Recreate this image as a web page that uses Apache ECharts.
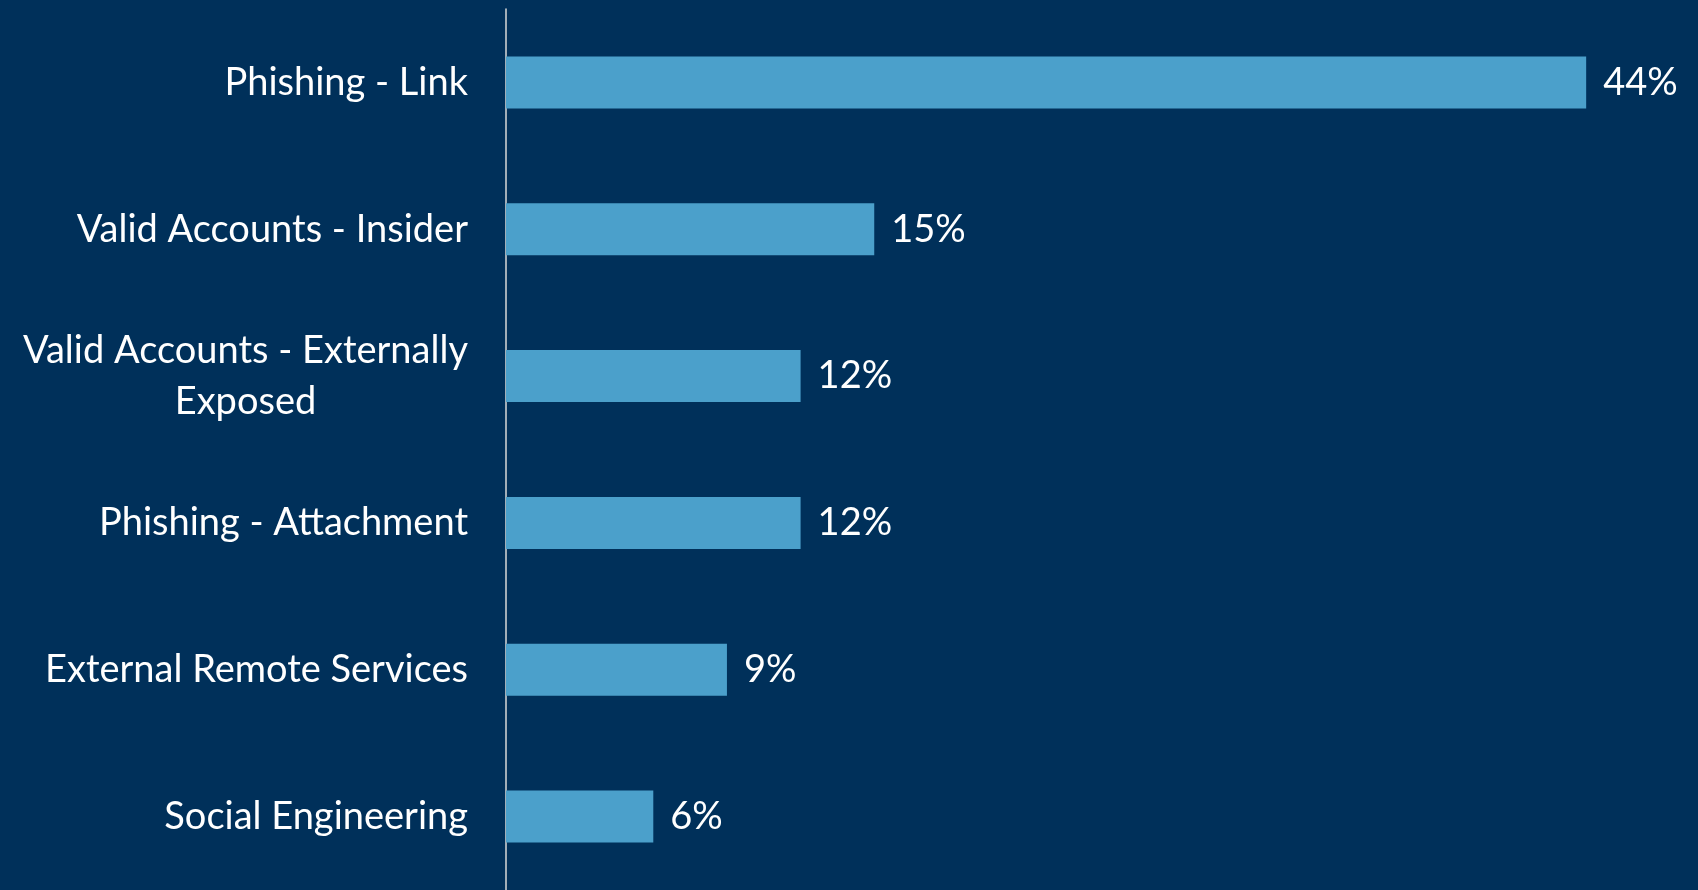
<!DOCTYPE html>
<html>
<head>
<meta charset="utf-8">
<script src="https://cdn.jsdelivr.net/npm/echarts@6/dist/echarts.min.js"></script>
<style>
  html, body { margin: 0; padding: 0; background: #00305A; }
  #chart { width: 1698px; height: 890px; }
</style>
</head>
<body>
<div id="chart"></div>
<script>
// Initial access vectors, share of incidents (%)
const categories = [
  'Phishing - Link',
  'Valid Accounts - Insider',
  'Valid Accounts - Externally\nExposed',
  'Phishing - Attachment',
  'External Remote Services',
  'Social Engineering'
];
const values = [44, 15, 12, 12, 9, 6];

const FONT = 'Lato';
const FONT_SIZE = 38;

// width of a line of label text, so wrapped labels can be centred under their widest line
function textWidth(str) {
  const c = document.createElement('canvas').getContext('2d');
  c.font = FONT_SIZE + 'px ' + FONT;
  return c.measureText(str).width;
}

const chart = echarts.init(document.getElementById('chart'), null, { renderer: 'canvas' });

chart.setOption({
  backgroundColor: '#00305A',
  grid: { left: 506, right: 21, top: 9, bottom: 0, containLabel: false },
  xAxis: {
    type: 'value',
    min: 0,
    max: 47.7,
    show: false
  },
  yAxis: {
    type: 'category',
    data: categories,
    inverse: true,
    axisLine: { show: true, lineStyle: { color: '#D9D9D9', width: 1.5 } },
    axisTick: { show: false },
    axisLabel: {
      margin: 38,
      color: '#FFFFFF',
      fontFamily: FONT,
      fontSize: FONT_SIZE,
      lineHeight: 51,
      formatter: function (v) {
        if (v.indexOf('\n') < 0) return v;
        return v.split('\n').map(l => '{c|' + l + '}').join('\n');
      },
      rich: {
        c: {
          color: '#FFFFFF',
          fontFamily: FONT,
          fontSize: FONT_SIZE,
          lineHeight: 51,
          align: 'center',
          width: Math.ceil(textWidth('Valid Accounts - Externally'))
        }
      }
    },
    splitLine: { show: false }
  },
  series: [{
    type: 'bar',
    data: values,
    barWidth: 52,
    itemStyle: { color: '#4BA0CB' },
    label: {
      show: true,
      position: 'right',
      distance: 17,
      color: '#FFFFFF',
      fontFamily: FONT,
      fontSize: FONT_SIZE,
      formatter: '{c}%'
    }
  }]
});
</script>
</body>
</html>
